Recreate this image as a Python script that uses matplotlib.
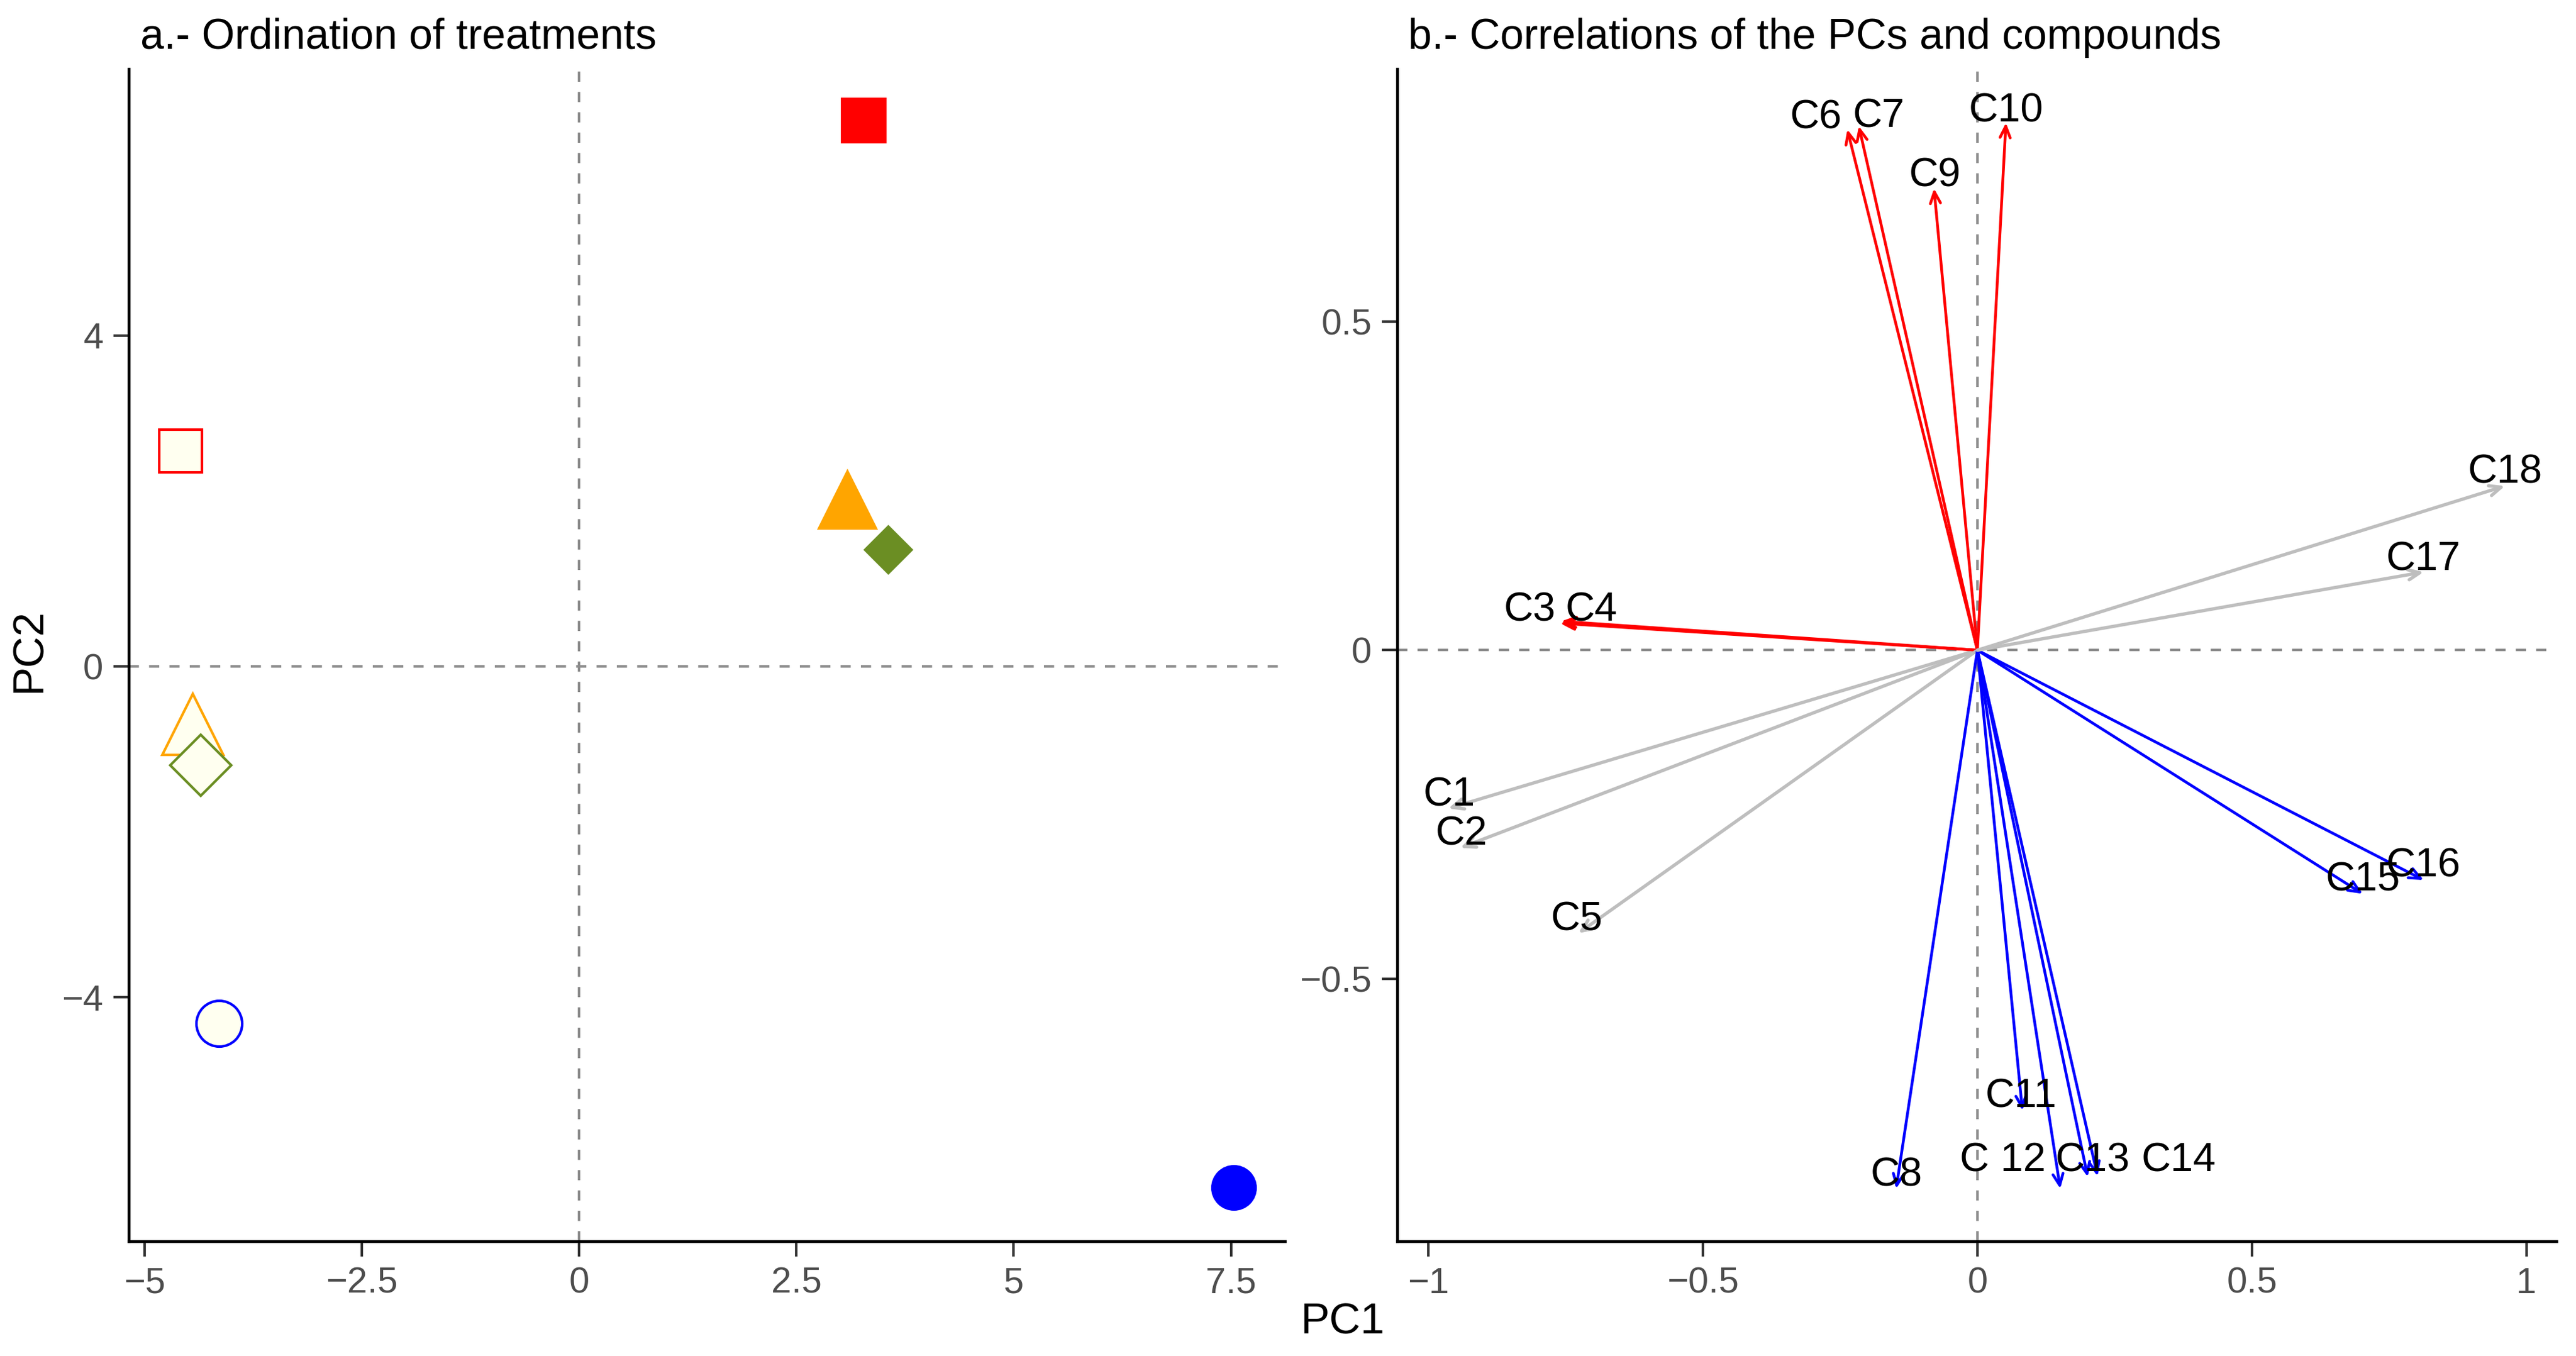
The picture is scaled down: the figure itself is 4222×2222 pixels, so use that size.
import numpy as np
import matplotlib
matplotlib.use("Agg")
import matplotlib.pyplot as plt

plt.rcParams['font.family'] = ['Liberation Sans', 'DejaVu Sans']

# panel a: treatment scores
treat_x = [3.27, 3.09, 3.56, 7.53, -4.58, -4.44, -4.35, -4.14]
treat_y = [6.60, 2.02, 1.41, -6.30, 2.60, -0.70, -1.20, -4.32]
treat_marker = ['s', '^', 'D', 'o', 's', '^', 'D', 'o']
treat_color = ['red', 'orange', 'olivedrab', 'blue', 'red', 'orange', 'olivedrab', 'blue']
treat_filled = [True, True, True, True, False, False, False, False]

# panel b: compound correlations with PC1 / PC2
comp_names = ['C1', 'C2', 'C3', 'C4', 'C5', 'C6', 'C7', 'C8', 'C9', 'C10',
              'C11', 'C12', 'C13', 'C14', 'C15', 'C16', 'C17', 'C18']
comp_pc1 = [-0.964, -0.942, -0.760, -0.758, -0.727, -0.237, -0.216, -0.148, -0.079, 0.052,
            0.082, 0.151, 0.201, 0.219, 0.702, 0.813, 0.813, 0.961]
comp_pc2 = [-0.241, -0.301, 0.041, 0.044, -0.431, 0.793, 0.798, -0.820, 0.703, 0.803,
            -0.701, -0.820, -0.802, -0.801, -0.371, -0.350, 0.119, 0.250]
comp_group = ['grey', 'grey', 'red', 'red', 'grey', 'red', 'red', 'blue', 'red', 'red',
              'blue', 'blue', 'blue', 'blue', 'blue', 'blue', 'grey', 'grey']

# label texts and where they sit
lab_text = ['C1', 'C2', 'C3', 'C4', 'C5', 'C6', 'C7', 'C8', 'C9', 'C10',
            'C11', 'C 12', 'C13', 'C14', 'C15', 'C16', 'C17', 'C18']
lab_x = [-0.962, -0.940, -0.816, -0.703, -0.730, -0.294, -0.180, -0.148, -0.077, 0.052,
         0.079, 0.046, 0.210, 0.367, 0.702, 0.812, 0.812, 0.961]
lab_y = [-0.221, -0.281, 0.060, 0.060, -0.411, 0.810, 0.812, -0.800, 0.722, 0.820,
         -0.680, -0.778, -0.778, -0.778, -0.350, -0.329, 0.137, 0.270]

col_map = {'grey': '#BEBEBE', 'red': '#FF0000', 'blue': '#0000FF'}

fig = plt.figure(figsize=(4222 / 300, 2222 / 300), dpi=300)
ax1 = fig.add_axes([211 / 4222, 1 - 2034 / 2222, 1895 / 4222, 1921 / 2222])
ax2 = fig.add_axes([2290 / 4222, 1 - 2034 / 2222, 1900 / 4222, 1921 / 2222])

for ax in (ax1, ax2):
    ax.axhline(0, color='#8C8C8C', lw=1.0, ls=(0, (4, 4)), zorder=1)
    ax.axvline(0, color='#8C8C8C', lw=1.0, ls=(0, (4, 4)), zorder=1)
    for s in ['top', 'right']:
        ax.spines[s].set_visible(False)
    for s in ['left', 'bottom']:
        ax.spines[s].set_linewidth(1.1)
        ax.spines[s].set_color('black')
    ax.tick_params(length=6, width=1.0, color='#333333', labelcolor='#4D4D4D',
                   labelsize=14.3, pad=4)

# panel a
msize_fill = {'s': 18, '^': 24, 'D': 14, 'o': 18}
msize_open = {'s': 17, '^': 24, 'D': 17, 'o': 18}
for x, y, m, c, f in zip(treat_x, treat_y, treat_marker, treat_color, treat_filled):
    if f:
        ax1.plot(x, y, marker=m, ms=msize_fill[m], color=c, mec=c, mew=0, ls='none', zorder=3)
    else:
        ax1.plot(x, y, marker=m, ms=msize_open[m], mfc='#FFFFF0', mec=c, mew=1.0, ls='none', zorder=3)

ax1.set_xlim(-5.18, 8.12)
ax1.set_ylim(-6.95, 7.22)
ax1.set_xticks([-5, -2.5, 0, 2.5, 5, 7.5])
ax1.set_xticklabels(['\u22125', '\u22122.5', '0', '2.5', '5', '7.5'])
ax1.set_yticks([-4, 0, 4])
ax1.set_yticklabels(['\u22124', '0', '4'])

# panel b
for x, y, g in zip(comp_pc1, comp_pc2, comp_group):
    ax2.annotate('', xy=(x, y), xytext=(0, 0),
                 arrowprops=dict(arrowstyle='->,head_length=0.45,head_width=0.2',
                                 color=col_map[g], lw=1.3 if g == 'grey' else 1.1,
                                 shrinkA=0, shrinkB=0), zorder=2)
for t, x, y in zip(lab_text, lab_x, lab_y):
    ax2.text(x, y, t, ha='center', va='center', fontsize=16, color='black', zorder=4)

ax2.set_xlim(-1.057, 1.055)
ax2.set_ylim(-0.90, 0.885)
ax2.set_xticks([-1, -0.5, 0, 0.5, 1])
ax2.set_xticklabels(['\u22121', '\u22120.5', '0', '0.5', '1'])
ax2.set_yticks([-0.5, 0, 0.5])
ax2.set_yticklabels(['\u22120.5', '0', '0.5'])

fig.text(230 / 4222, 1 - 62 / 2222, 'a.- Ordination of treatments', ha='left', va='center', fontsize=16.7)
fig.text(2308 / 4222, 1 - 62 / 2222, 'b.- Correlations of the PCs and compounds', ha='left', va='center', fontsize=16.7)
fig.text(2200 / 4222, 1 - 2168 / 2222, 'PC1', ha='center', va='center', fontsize=17)
fig.text(49 / 4222, 1 - 1066 / 2222, 'PC2', ha='center', va='center', rotation=90, fontsize=17)

fig.savefig('out.png', dpi=300)
